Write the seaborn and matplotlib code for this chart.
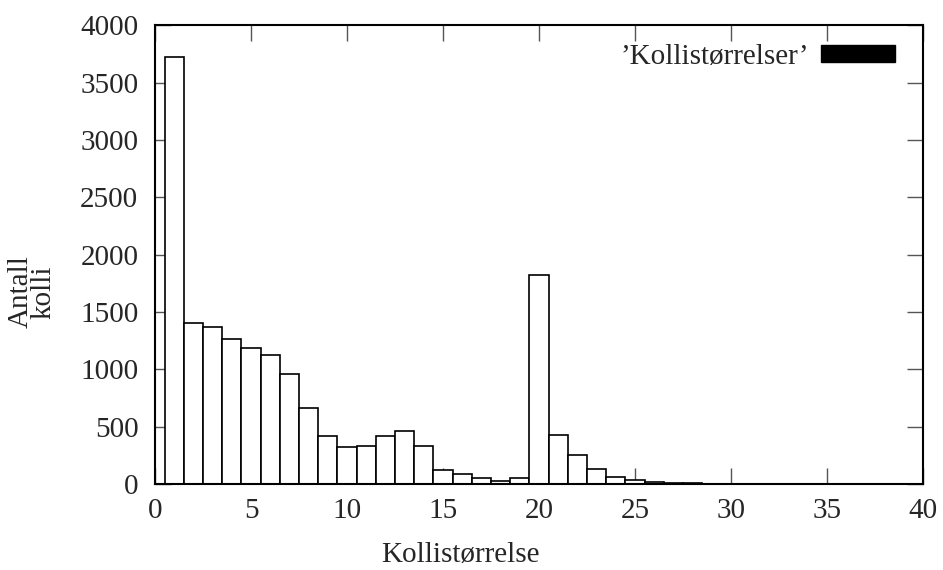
import matplotlib
matplotlib.use("Agg")
import matplotlib.pyplot as plt
import matplotlib.patches as mpatches
import seaborn as sns
import pandas as pd

# Data
sizes = list(range(1, 40))
counts = [3720, 1407, 1366, 1262, 1189, 1128, 962, 660, 421, 320,
          329, 416, 459, 329, 125, 84, 49, 29, 55, 1826,
          427, 250, 131, 58, 35, 20, 11, 6, 4, 3,
          2, 2, 1, 2, 1, 1, 1, 2, 1]
x_ticks = [0, 5, 10, 15, 20, 25, 30, 35, 40]
y_ticks = [0, 500, 1000, 1500, 2000, 2500, 3000, 3500, 4000]
legend_label = "’Kollistørrelser’"
x_label = "Kollistørrelse"
y_label = "Antall\nkolli"

df = pd.DataFrame({"size": sizes, "count": counts})

sns.set_style("white")
plt.rcParams["font.family"] = ["Liberation Serif", "DejaVu Serif"]

fs = 21
fig = plt.figure(figsize=(9.43, 5.70), dpi=100)
ax = fig.add_axes([155 / 943, 1 - 484 / 570, (923 - 155) / 943, (484 - 25.3) / 570])

sns.histplot(data=df, x="size", weights="count", discrete=True,
             color="white", edgecolor="black", linewidth=1.2, alpha=1,
             ax=ax, legend=False)

ax.set_xlim(0, 40)
ax.set_ylim(0, 4000)
ax.set_xticks(x_ticks)
ax.set_yticks(y_ticks)
ax.set_xticklabels([str(v) for v in x_ticks], fontsize=fs)
ax.set_yticklabels([str(v) for v in y_ticks], fontsize=fs)
ax.tick_params(axis="both", direction="in", length=11.5, width=1.0,
               top=True, right=True, bottom=True, left=True, color="#555555")
ax.tick_params(axis="x", pad=10)
ax.tick_params(axis="y", pad=12)
ax.set_xlabel("")
ax.set_ylabel("")
for s in ax.spines.values():
    s.set_visible(True)
    s.set_linewidth(1.5)
    s.set_color("black")
ax.grid(False)

fig.text(460 / 943, 1 - 555 / 570, x_label, fontsize=fs, ha="center", va="center")
fig.text(32 / 943, 1 - 292 / 570, y_label, fontsize=fs, ha="center", va="center",
         rotation=90, linespacing=0.8)

handle = mpatches.Patch(facecolor="black", edgecolor="black")
leg = ax.legend([handle], [legend_label], loc="upper right",
                bbox_to_anchor=(895 / 943, 1 - 44 / 570),
                bbox_transform=fig.transFigure, frameon=False, fontsize=fs,
                markerfirst=False, handlelength=2.55, handleheight=0.5,
                borderpad=0, borderaxespad=0, handletextpad=0.4)

fig.savefig("out.png", dpi=100, facecolor="white")
